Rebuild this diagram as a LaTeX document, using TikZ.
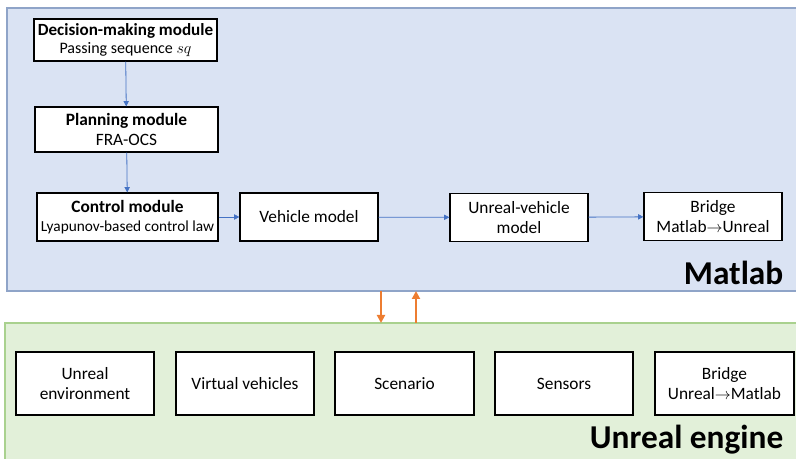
\documentclass[tikz,border=0pt]{standalone}
\usepackage{fontspec}
\setmainfont{Carlito}
\usepackage{tikz}
\usetikzlibrary{arrows.meta,positioning,calc}
\definecolor{matfill}{HTML}{DAE3F3}
\definecolor{matline}{HTML}{8FA4C8}
\definecolor{unrfill}{HTML}{E2F0D9}
\definecolor{unrline}{HTML}{A9D18E}
\definecolor{flowblue}{HTML}{4472C4}
\definecolor{linkorange}{HTML}{ED7D31}

\begin{document}
\begin{tikzpicture}[x=0.75pt, y=-0.75pt,
  every node/.style={font=\fontsize{13}{15}\selectfont},
  modbox/.style={draw=black, fill=white, line width=0.9pt, align=center,
    inner sep=1pt, minimum height=48*0.75pt},
  flow/.style={flowblue, line width=0.6pt, -{Triangle[length=4pt, width=4pt]}},
  link/.style={linkorange, line width=2pt, -{Triangle[length=6pt, width=6pt]}},
  panel/.style={font=\fontsize{25}{28}\selectfont\bfseries, anchor=east}]
  \useasboundingbox (0,0) rectangle (796,459);
  % Panels
  \filldraw[fill=matfill, draw=matline, line width=0.9pt] (7,8) rectangle (810,291);
  \filldraw[fill=unrfill, draw=unrline, line width=0.9pt] (5,323) rectangle (810,470);
  \node[panel] (matlab) at (788,273) {Matlab};
  \node[panel] (unreal) at (788,440) {Unreal engine};
  % Matlab modules
  \node[modbox, minimum width=183*0.75pt, minimum height=42*0.75pt] (dm) at (125.5,40)
    {\textbf{\fontsize{12.8}{14}\selectfont Decision-making module}\\[-2pt]{\fontsize{12}{13}\selectfont Passing sequence $sq$}};
  \node[modbox, minimum width=183*0.75pt, minimum height=45*0.75pt] (plan) at (126.5,129.5)
    {\textbf{Planning module}\\FRA-OCS};
  \node[modbox, minimum width=181*0.75pt] (ctrl) at (127.5,217)
    {\textbf{Control module}\\[-1pt]{\fontsize{11.5}{13}\selectfont Lyapunov-based control law}};
  \node[modbox, minimum width=138*0.75pt] (veh) at (309,217) {Vehicle model};
  \node[modbox, minimum width=138*0.75pt] (uveh) at (519,217.5) {Unreal-vehicle\\model};
  \node[modbox, minimum width=138*0.75pt] (brm) at (713,216.5) {Bridge\\Matlab$\rightarrow$Unreal};
  % Unreal modules
  \node[modbox, minimum width=138*0.75pt, minimum height=63*0.75pt] (env) at (85,383.5) {Unreal\\environment};
  \node[modbox, minimum width=138*0.75pt, minimum height=63*0.75pt] (virt) at (245,383.5) {Virtual vehicles};
  \node[modbox, minimum width=139*0.75pt, minimum height=63*0.75pt] (scen) at (404.5,383.5) {Scenario};
  \node[modbox, minimum width=138*0.75pt, minimum height=63*0.75pt] (sens) at (564,383.5) {Sensors};
  \node[modbox, minimum width=139*0.75pt, minimum height=63*0.75pt] (bru) at (724.5,383.5) {Bridge\\Unreal$\rightarrow$Matlab};
  % Flow inside Matlab
  \draw[flow] (dm) -- (plan);
  \draw[flow] (plan) -- (ctrl);
  \draw[flow] (ctrl) -- (veh);
  \draw[flow] (veh) -- (uveh);
  \draw[flow] (uveh) -- (brm);
  % Links between the two panels
  \coordinate (mdown) at (381,291);
  \coordinate (udown) at (381,323);
  \coordinate (mup) at (416,291);
  \coordinate (uup) at (416,323);
  \draw[link] (mdown) -- (udown);
  \draw[link] (uup) -- (mup);
\end{tikzpicture}
\end{document}
